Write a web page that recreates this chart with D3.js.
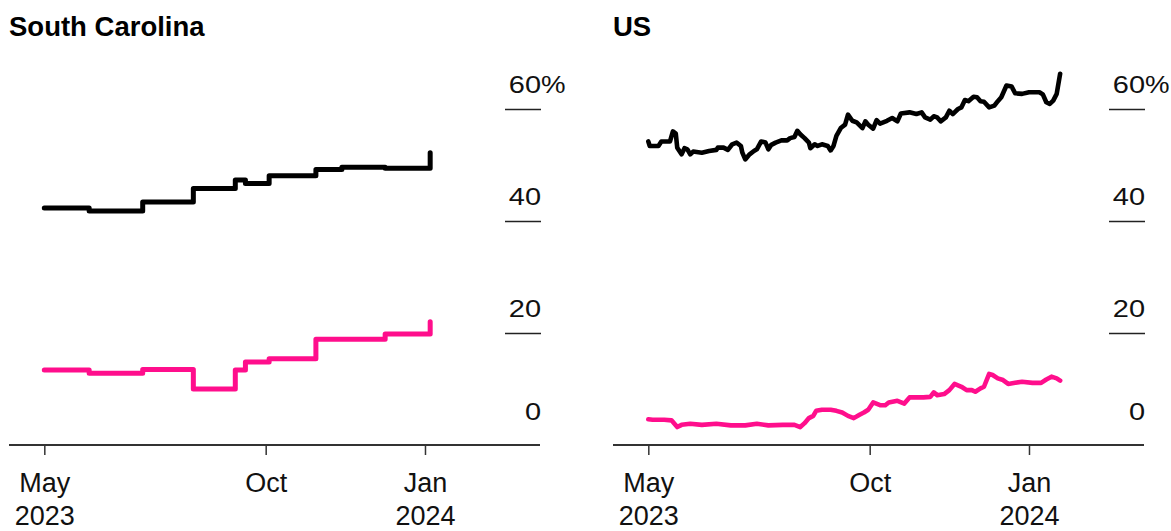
<!DOCTYPE html>
<html>
<head>
<meta charset="utf-8">
<script src="https://cdn.jsdelivr.net/npm/d3@7"></script>
<style>
  html, body { margin: 0; padding: 0; background: #fff; }
  svg { display: block; font-family: "Liberation Sans", Arial, Helvetica, sans-serif; }
</style>
</head>
<body>
<svg id="chart" width="1171" height="531"></svg>
<script>
// ---- data -------------------------------------------------------------
const panelTitles = ["South Carolina", "US"];

const xTickDates  = ["2023-05-01", "2023-10-01", "2024-01-01"];
const xTickMonths = ["May", "Oct", "Jan"];
const xTickYears  = ["2023", "", "2024"];
const yTickValues = [0, 20, 40, 60];

// South Carolina: values change in steps
const scUpper = [
  ["2023-05-01", 42.3], ["2023-06-01", 41.8], ["2023-07-08", 43.4], ["2023-08-12", 45.8],
  ["2023-09-10", 47.3], ["2023-09-17", 46.7], ["2023-10-03", 48.1], ["2023-10-30", 49.2],
  ["2023-11-14", 49.6], ["2023-12-09", 49.4], ["2024-01-03", 49.4], ["2024-01-04", 52.2]
];
const scLower = [
  ["2023-05-01", 13.4], ["2023-06-01", 12.8], ["2023-07-08", 13.5], ["2023-08-12", 10.0],
  ["2023-09-10", 13.4], ["2023-09-17", 14.8], ["2023-10-03", 15.4], ["2023-10-30", 18.9],
  ["2023-11-14", 18.9], ["2023-12-09", 19.8], ["2024-01-03", 19.8], ["2024-01-04", 22.0]
];

// US
const usUpper = [
  ["2023-05-01", 54.2], ["2023-05-02", 53.4], ["2023-05-08", 53.4], ["2023-05-10", 54.2],
  ["2023-05-16", 54.2], ["2023-05-18", 56.0], ["2023-05-20", 55.6], ["2023-05-21", 53.1],
  ["2023-05-24", 51.9], ["2023-05-26", 53.0], ["2023-05-28", 52.8], ["2023-05-30", 51.9],
  ["2023-06-01", 52.4], ["2023-06-07", 52.2], ["2023-06-12", 52.5], ["2023-06-17", 52.7],
  ["2023-06-18", 53.1], ["2023-06-22", 53.1], ["2023-06-25", 52.7], ["2023-06-28", 53.7],
  ["2023-07-01", 54.0], ["2023-07-04", 53.4], ["2023-07-05", 52.2], ["2023-07-07", 51.0],
  ["2023-07-10", 51.9], ["2023-07-13", 52.5], ["2023-07-15", 52.8], ["2023-07-18", 54.2],
  ["2023-07-21", 54.0], ["2023-07-23", 52.8], ["2023-07-25", 53.6], ["2023-07-28", 54.0],
  ["2023-08-01", 54.4], ["2023-08-05", 54.4], ["2023-08-07", 54.8], ["2023-08-10", 55.0],
  ["2023-08-12", 56.1], ["2023-08-14", 55.5], ["2023-08-17", 54.8], ["2023-08-20", 54.0],
  ["2023-08-21", 53.0], ["2023-08-24", 53.7], ["2023-08-26", 53.4], ["2023-08-29", 53.7],
  ["2023-09-02", 53.4], ["2023-09-04", 52.6], ["2023-09-06", 53.4], ["2023-09-08", 55.2],
  ["2023-09-11", 56.6], ["2023-09-14", 57.2], ["2023-09-16", 59.0], ["2023-09-19", 57.9],
  ["2023-09-22", 57.6], ["2023-09-26", 56.6], ["2023-09-28", 57.8], ["2023-09-30", 57.2],
  ["2023-10-03", 56.5], ["2023-10-05", 58.0], ["2023-10-07", 57.4], ["2023-10-11", 57.9],
  ["2023-10-14", 58.4], ["2023-10-17", 57.8], ["2023-10-19", 59.2], ["2023-10-24", 59.4],
  ["2023-10-28", 59.1], ["2023-10-31", 59.4], ["2023-11-02", 58.5], ["2023-11-05", 58.1],
  ["2023-11-07", 58.7], ["2023-11-09", 58.5], ["2023-11-11", 57.8], ["2023-11-14", 58.5],
  ["2023-11-16", 59.7], ["2023-11-18", 59.1], ["2023-11-21", 60.0], ["2023-11-23", 60.3],
  ["2023-11-25", 61.6], ["2023-11-27", 61.4], ["2023-11-30", 62.2], ["2023-12-02", 62.1],
  ["2023-12-04", 61.4], ["2023-12-06", 61.3], ["2023-12-09", 60.3], ["2023-12-12", 60.6],
  ["2023-12-14", 61.4], ["2023-12-16", 62.1], ["2023-12-19", 64.2], ["2023-12-22", 64.0],
  ["2023-12-24", 62.8], ["2023-12-28", 62.7], ["2024-01-01", 63.0], ["2024-01-07", 63.0],
  ["2024-01-09", 62.6], ["2024-01-11", 61.2], ["2024-01-13", 60.9], ["2024-01-15", 61.5],
  ["2024-01-17", 62.7], ["2024-01-19", 66.3]
];
const usLower = [
  ["2023-05-01", 4.6], ["2023-05-04", 4.5], ["2023-05-12", 4.5], ["2023-05-17", 4.4],
  ["2023-05-21", 3.2], ["2023-05-24", 3.6], ["2023-05-30", 3.8], ["2023-06-07", 3.6],
  ["2023-06-17", 3.8], ["2023-06-27", 3.5], ["2023-07-07", 3.5], ["2023-07-15", 3.8],
  ["2023-07-23", 3.5], ["2023-08-02", 3.6], ["2023-08-10", 3.6], ["2023-08-14", 3.2],
  ["2023-08-17", 3.9], ["2023-08-20", 4.8], ["2023-08-23", 5.2], ["2023-08-25", 6.1],
  ["2023-08-29", 6.3], ["2023-09-04", 6.3], ["2023-09-08", 6.1], ["2023-09-12", 5.8],
  ["2023-09-16", 5.2], ["2023-09-20", 4.8], ["2023-09-24", 5.4], ["2023-09-27", 5.8],
  ["2023-09-30", 6.3], ["2023-10-03", 7.6], ["2023-10-07", 7.1], ["2023-10-10", 7.1],
  ["2023-10-12", 7.6], ["2023-10-17", 7.9], ["2023-10-21", 7.4], ["2023-10-24", 8.5],
  ["2023-10-28", 8.5], ["2023-11-01", 8.5], ["2023-11-05", 8.6], ["2023-11-07", 9.4],
  ["2023-11-09", 8.9], ["2023-11-13", 9.1], ["2023-11-16", 9.8], ["2023-11-19", 10.9],
  ["2023-11-23", 10.4], ["2023-11-26", 9.8], ["2023-11-29", 9.8], ["2023-12-01", 9.5],
  ["2023-12-04", 10.1], ["2023-12-06", 10.4], ["2023-12-09", 12.7], ["2023-12-11", 12.5],
  ["2023-12-14", 11.9], ["2023-12-17", 11.6], ["2023-12-20", 10.9], ["2023-12-24", 11.1],
  ["2023-12-28", 11.3], ["2024-01-03", 11.1], ["2024-01-08", 11.1], ["2024-01-11", 11.7],
  ["2024-01-14", 12.2], ["2024-01-17", 11.9], ["2024-01-19", 11.5]
];

// ---- layout -----------------------------------------------------------
const parse = d3.timeParse("%Y-%m-%d");
const panelWidth = 531;
const panelLefts = [9, 613];
const baseY = 445;
const upperColor = "#000000";
const lowerColor = "#ff0e8c";

const panels = [
  { title: panelTitles[0], series: [scUpper, scLower], curve: d3.curveStepAfter, width: 5 },
  { title: panelTitles[1], series: [usUpper, usLower], curve: d3.curveLinear, width: 4.6 }
];

// month ticks sit at fixed fractions of the panel width
const x = d3.scaleTime()
  .domain(xTickDates.map(parse))
  .range([panelWidth * 0.0665, panelWidth * 0.4834, panelWidth * 0.7834]);

const y = d3.scaleLinear().domain([0, 60]).range([baseY, 109]);

const svg = d3.select("#chart");

panels.forEach((p, pi) => {
  const g = svg.append("g").attr("transform", `translate(${panelLefts[pi]},0)`);

  g.append("text")
    .attr("x", 0).attr("y", 36)
    .attr("font-size", 27.5).attr("font-weight", "bold").attr("fill", "#000")
    .text(p.title);

  // y axis: short rules under each value label at the right edge
  const yAxis = g.append("g")
    .attr("transform", `translate(${panelWidth + 1},0)`)
    .call(d3.axisLeft(y).tickValues(yTickValues).tickSize(36).tickFormat(d3.format("d")));
  yAxis.select(".domain").remove();
  yAxis.attr("font-family", null).attr("font-size", null);
  yAxis.selectAll(".tick line").attr("stroke", "#222").attr("stroke-width", 1.5);
  yAxis.selectAll(".tick").filter(d => d === 0).select("line").remove();
  yAxis.selectAll(".tick text")
    .attr("x", 0).attr("dy", 0)
    .attr("y", d => d === 0 ? -26 : -16.5)
    .attr("font-size", 23).attr("fill", "#111")
    .attr("text-anchor", "end")
    .attr("transform", "scale(1.26,1)");
  yAxis.selectAll(".tick").filter(d => d === 60)
    .append("text")
    .attr("x", 0).attr("y", -16.5)
    .attr("font-size", 23).attr("fill", "#111")
    .attr("text-anchor", "start")
    .attr("transform", "scale(1.2,1)")
    .text("%");

  // baseline
  g.append("line")
    .attr("x1", 0).attr("x2", panelWidth)
    .attr("y1", baseY).attr("y2", baseY)
    .attr("stroke", "#333").attr("stroke-width", 1.8);

  // x axis
  const xAxis = g.append("g")
    .attr("transform", `translate(0,${baseY})`)
    .call(d3.axisBottom(x)
      .tickValues(xTickDates.map(parse))
      .tickSize(10)
      .tickFormat((d, i) => xTickMonths[i]));
  xAxis.select(".domain").remove();
  xAxis.attr("font-family", null).attr("font-size", null);
  xAxis.selectAll(".tick line").attr("stroke", "#333").attr("stroke-width", 1.5);
  xAxis.selectAll(".tick text")
    .attr("y", 47).attr("dy", 0)
    .attr("font-size", 27).attr("fill", "#111")
    .each(function (d, i) {
      if (xTickYears[i]) {
        d3.select(this).append("tspan")
          .attr("x", 0).attr("dy", 33)
          .text(xTickYears[i]);
      }
    });

  // series
  const line = d3.line()
    .x(d => x(parse(d[0])))
    .y(d => y(d[1]))
    .curve(p.curve);

  [p.series[1], p.series[0]].forEach((s, si) => {
    g.append("path")
      .datum(s)
      .attr("d", line)
      .attr("fill", "none")
      .attr("stroke", si === 0 ? lowerColor : upperColor)
      .attr("stroke-width", p.width)
      .attr("stroke-linejoin", "round")
      .attr("stroke-linecap", "round");
  });
});
</script>
</body>
</html>
